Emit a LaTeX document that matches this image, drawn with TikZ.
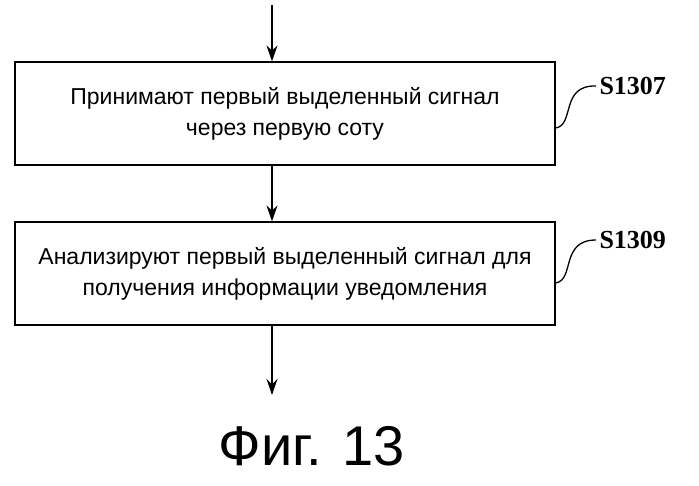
\documentclass[tikz,border=0pt]{standalone}
\usepackage{fontspec}
\setmainfont{Liberation Sans}
\newfontfamily\serifb{Liberation Serif}
\begin{document}
\begin{tikzpicture}[x=1pt,y=-1pt,
  stepbox/.style={draw,line width=1.2pt,minimum width=540pt,minimum height=103pt,align=center,font=\fontsize{23}{31}\selectfont},
  arr/.style={-{Stealth[length=16pt,width=11pt]},line width=1.5pt},
  lbl/.style={font=\serifb\bfseries\fontsize{26}{28}\selectfont,anchor=west}]
\usetikzlibrary{arrows.meta}
\useasboundingbox (0,0) rectangle (699,485);
\node[stepbox] (b1) at (285,113.5) {Принимают первый выделенный сигнал\\через первую соту};
\node[stepbox] (b2) at (285,273.5) {Анализируют первый выделенный сигнал для\\получения информации уведомления};
\coordinate (t) at (272,5);
\coordinate (e) at (272,395);
\draw[arr] (t) -- (t|-b1.north);
\draw[arr] (b1.south-|t) -- (b2.north-|t);
\draw[arr] (b2.south-|t) -- (e);
\node[lbl] (l1) at (596,86) {S1307};
\node[lbl] (l2) at (596,240) {S1309};
\draw[line width=1.3pt] (b1.east|-0,128) .. controls (575,125) and (560,85) .. (l1.west);
\draw[line width=1.3pt] (b2.east|-0,283) .. controls (575,280) and (560,240) .. (l2.west);
\node[font=\fontsize{56}{60}\selectfont] (f) at (312,446) {Фиг. 13};
\end{tikzpicture}
\end{document}
